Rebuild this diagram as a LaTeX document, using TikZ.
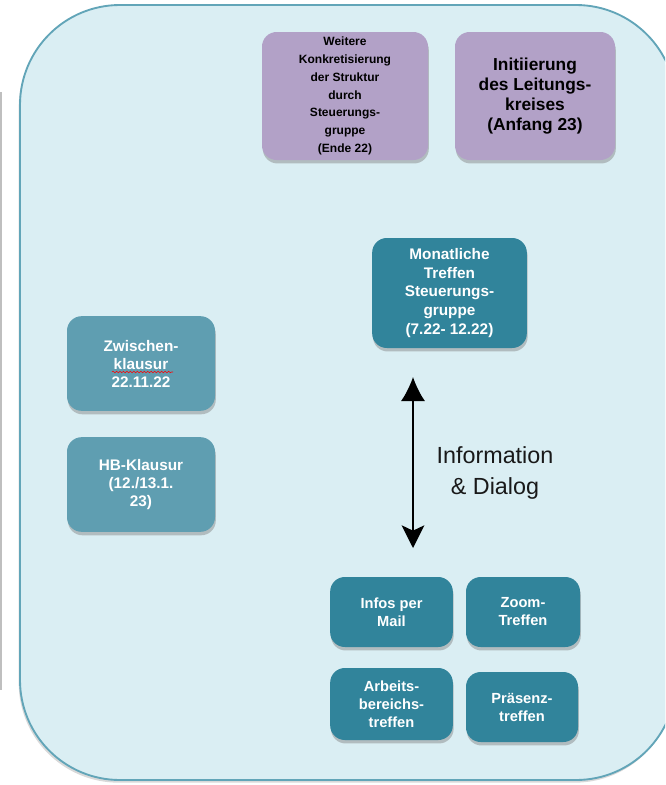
\documentclass[tikz,border=0pt]{standalone}
\usepackage{fontspec}
\setmainfont{Liberation Sans}
\usetikzlibrary{arrows.meta,shadows,decorations.pathmorphing}

\definecolor{rahmen}{HTML}{DAEEF3}
\definecolor{rahmenrand}{HTML}{62A5B8}
\definecolor{lila}{HTML}{B2A1C7}
\definecolor{petrol}{HTML}{31849B}
\definecolor{petrolhell}{HTML}{5F9EB1}

\tikzstyle{kasten}=[rectangle,rounded corners=11pt,align=center,inner sep=1pt,font=\bfseries\fontsize{11.5}{13.5}\selectfont,drop shadow={shadow xshift=0.6pt,shadow yshift=-2.6pt,opacity=0.45}]
\tikzstyle{lilakasten}=[kasten,fill=lila,text=black]
\tikzstyle{petrolkasten}=[kasten,fill=petrol,text=white]
\tikzstyle{klausur}=[kasten,fill=petrolhell,text=white,minimum width=111pt,minimum height=71pt]

\begin{document}
\begin{tikzpicture}[x=0.75pt,y=-0.75pt,>=Latex]
	\useasboundingbox (0,0) rectangle (665,785);
	\clip (0,0) rectangle (665,785);

	% Rahmen
	\draw[black!25,line width=1pt] (1,92) -- (1,690);
	\draw[rahmenrand,line width=1.4pt,fill=rahmen,rounded corners=75pt,drop shadow={shadow xshift=-1pt,shadow yshift=-2pt,opacity=0.3}] (20,5) rectangle (676,780);

	% Planung
	\node[lilakasten,font=\bfseries\fontsize{9}{13.4}\selectfont,minimum width=124.5pt,minimum height=96pt] (konkret) at (345,96) {Weitere\\Konkretisierung\\der Struktur\\durch\\Steuerungs-\\gruppe\\(Ende 22)};
	\node[lilakasten,font=\bfseries\fontsize{13}{15.2}\selectfont,minimum width=120pt,minimum height=96pt] (leitung) at (535,96) {Initiierung\\des Leitungs-\\kreises\\(Anfang 23)};
	\node[petrolkasten,font=\bfseries\fontsize{11.5}{14}\selectfont,minimum width=116pt,minimum height=82.5pt] (monat) at (449.5,293) {Monatliche\\Treffen\\Steuerungs-\\gruppe\\(7.22- 12.22)};

	% Klausuren
	\node[klausur] (zwischen) at (141,363.5) {Zwischen-\\klausur\\22.11.22};
	\node[klausur] (hb) at (141,484.5) {HB-Klausur\\(12./13.1.\\23)};
	\draw[red,decorate,decoration={snake,segment length=2.6pt,amplitude=0.6pt}] (112,372) -- (173,372);

	% Information & Dialog
	\coordinate (pfeiloben) at (413,377);
	\coordinate (pfeilunten) at (413,548);
	\draw[{Latex[length=18pt,width=18pt]}-{Stealth[length=17pt,width=17pt,inset=4pt]},line width=1.1pt] (pfeiloben) -- (pfeilunten);
	\node[font=\fontsize{17.5}{23}\selectfont,align=center,text=black!90] (info) at (495,473) {Information\\\& Dialog};

	% Formate
	\node[petrolkasten,font=\bfseries\fontsize{11}{13.5}\selectfont,minimum width=92pt,minimum height=52.5pt] (mail) at (391.5,612) {Infos per\\Mail};
	\node[petrolkasten,font=\bfseries\fontsize{11}{13.5}\selectfont,minimum width=85.5pt,minimum height=52.5pt] (zoom) at (523,612) {Zoom-\\Treffen};
	\node[petrolkasten,font=\bfseries\fontsize{11}{13.5}\selectfont,minimum width=92pt,minimum height=54pt] (arbeit) at (391.5,704) {Arbeits-\\bereichs-\\treffen};
	\node[petrolkasten,font=\bfseries\fontsize{11}{13.5}\selectfont,minimum width=84pt,minimum height=52.5pt] (praesenz) at (522,707) {Präsenz-\\treffen};
\end{tikzpicture}
\end{document}
